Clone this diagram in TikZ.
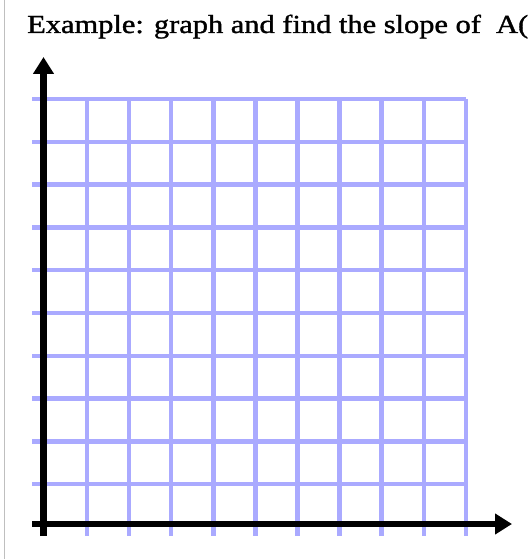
\documentclass[tikz,border=0pt]{standalone}
\usepackage{fontspec}
\setmainfont{Liberation Serif}
\newfontfamily\headfont[FakeBold=1.2]{Liberation Serif}
\usetikzlibrary{arrows.meta}

\begin{document}
\begin{tikzpicture}[
    x=1pt, y=-1pt,
    gridline/.style={line width=4.5pt, draw={rgb,255:red,170;green,170;blue,255}},
    axis/.style={line width=6.5pt, -{Triangle[length=17pt, width=20pt]}},
    title/.style={anchor=base west, inner sep=0pt, xscale=1.17, font=\headfont\fontsize{26}{30}\selectfont}
]
    \useasboundingbox (0,0) rectangle (529,559);
    \clip (0,0) rectangle (529,559);
    \draw[gray!50, line width=1pt] (4,0) -- (4,559);

    \node[title] (heading) at (27,33) {Example: graph and find the slope of\ \ A(};

    % grid
    \foreach \y in {0,...,9}
        \draw[gridline] (32,{99+\y*42.8}) -- (466,{99+\y*42.8});
    \foreach \x in {0,...,9}
        \draw[gridline] ({87+\x*42.1},99) -- ({87+\x*42.1},536);

    % axes
    \coordinate (ybottom) at (43.5,536);
    \coordinate (ytop)    at (43.5,57);
    \coordinate (xleft)   at (32,524);
    \coordinate (xright)  at (512,524);
    \draw[axis] (ybottom) -- (ytop);
    \draw[axis] (xleft) -- (xright);
\end{tikzpicture}
\end{document}
